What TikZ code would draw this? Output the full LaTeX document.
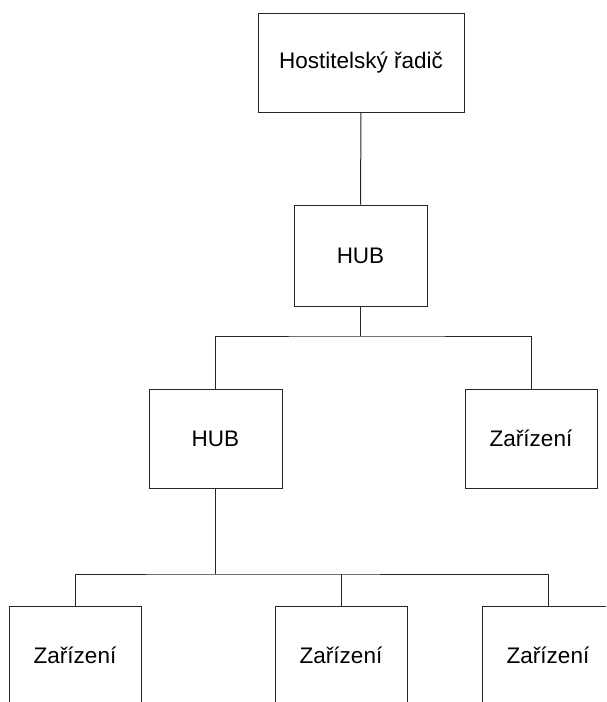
\documentclass[tikz,border=0pt]{standalone}
\usepackage{fontspec}
\setmainfont{Liberation Sans}
\begin{document}
\begin{tikzpicture}[x=1pt,y=-1pt,
  box/.style={draw=black!85, line width=1pt, fill=white, inner sep=0pt,
    font=\fontsize{22.5}{27}\selectfont},
  link/.style={draw=black!85, line width=1pt}]
\useasboundingbox (0,0) rectangle (606,702);
\clip (0,0) rectangle (606,702);

% controller and first hub
\node[box, minimum width=206pt, minimum height=99pt] (host) at (361,62.5) {Hostitelský řadič};
\node[box, minimum width=133pt, minimum height=101pt] (hub1) at (360.5,255.5) {HUB};

% second level
\node[box, minimum width=133pt, minimum height=99pt] (hub2) at (215.5,438.5) {HUB};
\node[box, minimum width=132pt, minimum height=99pt] (dev1) at (531,438.5) {Zařízení};

% devices behind the second hub
\node[box, minimum width=132pt, minimum height=99pt] (dev2) at (75,655.5) {Zařízení};
\node[box, minimum width=132pt, minimum height=99pt] (dev3) at (341,655.5) {Zařízení};
\node[box, minimum width=132pt, minimum height=99pt] (dev4) at (548,655.5) {Zařízení};

% bus junctions
\coordinate (b1) at (360.5,336);
\coordinate (b2) at (215.5,574);

\draw[link] (host.south) -- (hub1.north);
\draw[link] (hub1.south) -- (b1);
\draw[link] (hub2.north) |- (b1) -| (dev1.north);

\draw[link] (hub2.south) -- (b2);
\draw[link] (dev2.north) |- (b2) -| (dev4.north);
\draw[link] (dev3.north) -- (dev3.north |- b2);
\end{tikzpicture}
\end{document}
